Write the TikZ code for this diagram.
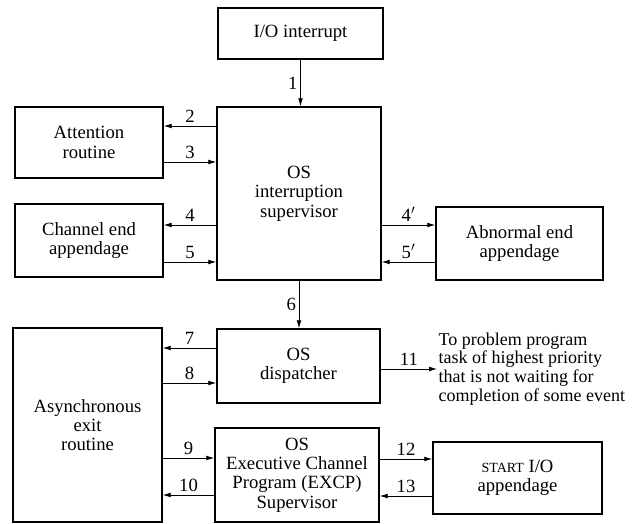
\documentclass[tikz,border=0pt]{standalone}
\usepackage{fontspec}
\setmainfont{Liberation Serif}
\usetikzlibrary{arrows.meta}
\begin{document}
\begin{tikzpicture}[x=0.75pt,y=-0.75pt,
    >={Latex[length=6pt,width=3.6pt]},
    box/.style 2 args={draw,line width=1.1pt,align=center,inner sep=0pt,
        minimum width=#1*0.75pt,minimum height=#2*0.75pt,
        font=\fontsize{14}{14.5}\selectfont},
    link/.style={->,line width=0.6pt},
    num/.style={font=\fontsize{14}{14}\selectfont,inner sep=2pt}]
    \useasboundingbox (0,0) rectangle (633,524);
    %draw boxes
    \node[box={165}{51}] (io) at (300.5,33.5) {I/O interrupt};
    \node[box={164}{173}] (sup) at (299,193.5) {OS\\interruption\\supervisor};
    \node[box={148}{71}] (att) at (89,142.5) {Attention\\routine};
    \node[box={148}{73}] (chan) at (89,240.5) {Channel end\\appendage};
    \node[box={167}{73}] (abn) at (519.5,243.5) {Abnormal end\\appendage};
    \node[box={163}{74}] (disp) at (298.5,366) {OS\\dispatcher};
    \node[box={149}{194}] (async) at (87.5,425) {Asynchronous\\exit\\routine};
    \node[box={164}{94}] (excp) at (297,475) {OS\\Executive Channel\\Program (EXCP)\\Supervisor};
    \node[box={169}{72}] (start) at (517.5,478) {{\fontsize{10.5}{10.5}\selectfont START} I/O\\appendage};
    \node[anchor=west,align=left,inner sep=1pt,font=\fontsize{13.5}{14}\selectfont] (goal) at (437,369)
        {To problem program\\task of highest priority\\that is not waiting for\\completion of some event};
    %draw arrows
    \draw[link] (io.south) -- (io.south |- sup.north) node[num,midway,left]{1};
    \draw[link] (sup.west |- 0,126) -- (att.east |- 0,126) node[num,midway,above]{2};
    \draw[link] (att.east |- 0,162) -- (sup.west |- 0,162) node[num,midway,above]{3};
    \draw[link] (sup.west |- 0,225) -- (chan.east |- 0,225) node[num,midway,above]{4};
    \draw[link] (chan.east |- 0,262) -- (sup.west |- 0,262) node[num,midway,above]{5};
    \draw[link] (sup.east |- 0,225) -- (abn.west |- 0,225) node[num,midway,above]{4$'$};
    \draw[link] (abn.west |- 0,262) -- (sup.east |- 0,262) node[num,midway,above]{5$'$};
    \draw[link] (sup.south) -- (sup.south |- disp.north) node[num,midway,left]{6};
    \draw[link] (disp.west |- 0,348) -- (async.east |- 0,348) node[num,midway,above]{7};
    \draw[link] (async.east |- 0,383) -- (disp.west |- 0,383) node[num,midway,above]{8};
    \draw[link] (async.east |- 0,458) -- (excp.west |- 0,458) node[num,midway,above]{9};
    \draw[link] (excp.west |- 0,495) -- (async.east |- 0,495) node[num,midway,above]{10};
    \draw[link] (disp.east |- goal.west) -- (goal.west) node[num,midway,above]{11};
    \draw[link] (excp.east |- 0,459) -- (start.west |- 0,459) node[num,midway,above]{12};
    \draw[link] (start.west |- 0,496) -- (excp.east |- 0,496) node[num,midway,above]{13};
\end{tikzpicture}
\end{document}
